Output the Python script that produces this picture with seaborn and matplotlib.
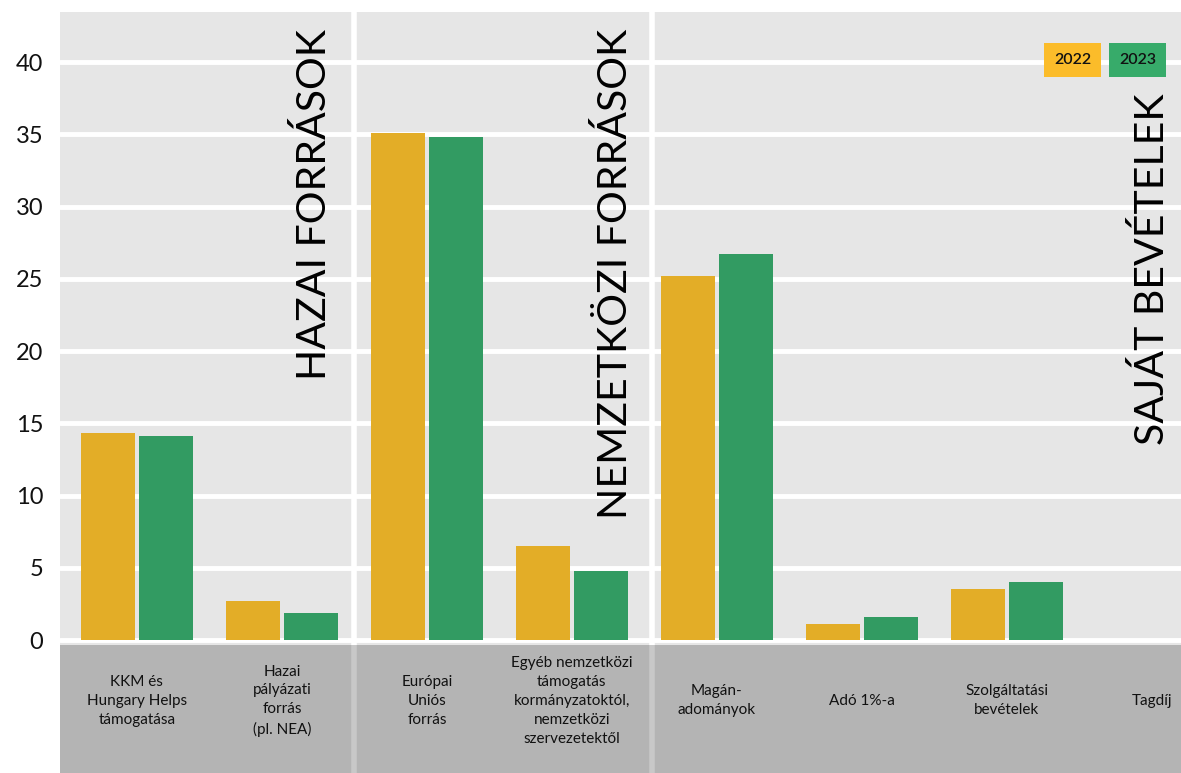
import pandas as pd
import seaborn as sns
import matplotlib.pyplot as plt


categories = ['KKM és\nHungary Helps\ntámogatása',
              'Hazai\npályázati\nforrás\n(pl. NEA)',
              'Európai\nUniós\nforrás',
              'Egyéb nemzetközi\ntámogatás\nkormányzatoktól,\nnemzetközi\nszervezetektől',
              'Magán-\nadományok',
              'Adó 1%-a',
              'Szolgáltatási\nbevételek',
              'Tagdíj']
years = ['2022', '2023']
values_2022 = [14.3, 2.7, 35.1, 6.5, 25.2, 1.1, 3.5, 0.0]
values_2023 = [14.1, 1.9, 34.8, 4.8, 26.7, 1.6, 4.0, 0.0]
sections = ['HAZAI FORRÁSOK', 'NEMZETKÖZI FORRÁSOK', 'SAJÁT BEVÉTELEK']

# layout of the section titles (x in category units, top in value units)
section_x = [1.22, 3.3, 7.0]
section_tops = [42.3, 42.3, 37.8]
separators = [1.5, 3.55]

bar_colors = ['#e3ad27', '#329b62']
legend_colors = ['#fbbc2a', '#37ab6a']

df = pd.DataFrame({
    'kategoria': categories * 2,
    'ev': [years[0]] * len(categories) + [years[1]] * len(categories),
    'ertek': values_2022 + values_2023,
})

sns.set_theme(style='darkgrid', rc={
    'axes.facecolor': '#e6e6e6',
    'grid.color': 'white',
    'grid.linewidth': 3.5,
})
plt.rcParams['font.family'] = ['Lato', 'DejaVu Sans']

fig = plt.figure(figsize=(11.81, 7.73), dpi=100)
ax = fig.add_axes([60 / 1181, 0, 1121 / 1181, 761 / 773])

sns.barplot(data=df, x='kategoria', y='ertek', hue='ev', order=categories,
            palette=bar_colors, width=0.8, gap=0.07, saturation=1,
            linewidth=0, legend=False, ax=ax, zorder=3)

ax.set_xlim(-0.53, 7.2)
ax.set_ylim(-9.2, 43.46)
ax.set_yticks(range(0, 41, 5))
ax.tick_params(axis='y', labelsize=17, pad=12, length=0, labelcolor='#111111')
ax.set_xticks([])
ax.grid(axis='x', visible=False)
ax.set_xlabel('')
ax.set_ylabel('')
for s in ax.spines.values():
    s.set_visible(False)

# lower label band
ax.axhspan(-9.2, -0.35, color='#b4b4b4', zorder=4, lw=0)
for x in separators:
    ax.vlines(x, -0.35, 43.46, color='white', lw=4, zorder=2)
    ax.vlines(x, -9.2, -0.35, color='#c8c8c8', lw=4, zorder=5)

for i, cat in enumerate(categories):
    ax.text(i, -4.2, cat, ha='center', va='center', fontsize=11,
            linespacing=1.45, color='#111111', zorder=6)

for name, x, top in zip(sections, section_x, section_tops):
    ax.text(x, top, name, rotation=90, ha='center', va='top',
            fontsize=29.5, color='black', zorder=6)

# legend boxes
for i, (yr, col) in enumerate(zip(years, legend_colors)):
    ax.text(6.455 + i * 0.445, 40.14, yr, ha='center', va='center', fontsize=11.5,
            fontweight='semibold', color='#111111', zorder=7,
            bbox=dict(boxstyle='square,pad=0.62', fc=col, ec='none'))

fig.savefig('out.png', dpi=100)
